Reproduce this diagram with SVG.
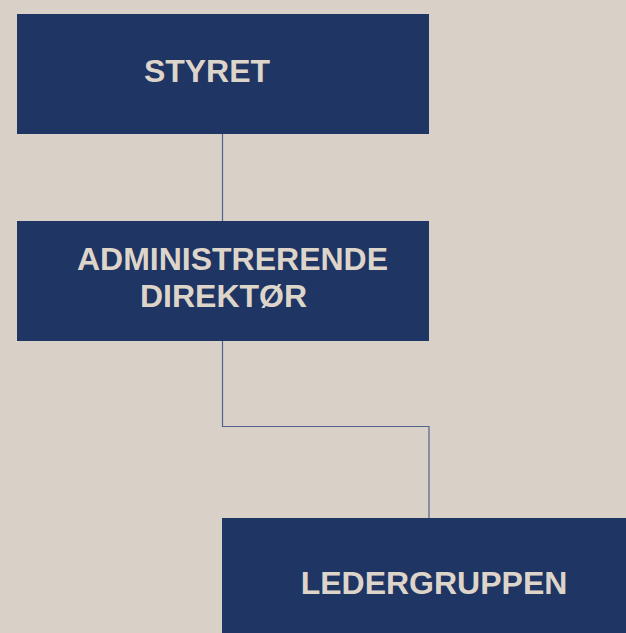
<svg xmlns="http://www.w3.org/2000/svg" width="626" height="633" viewBox="0 0 626 633">
<style>
.box{fill:#1F3564;}
.lbl{font-family:"Liberation Sans",Arial,sans-serif;font-weight:bold;font-size:32px;fill:#DDD4CA;text-anchor:middle;}
.conn{fill:none;stroke:#53628A;stroke-width:1.2;}
</style>
<rect width="626" height="633" fill="#D9D1C7"/>
<g id="connectors">
<path class="conn" d="M222.5,134 V221"/>
<path class="conn" d="M222.5,341 V426.5 H429 V518"/>
</g>
<g id="styret">
<rect class="box" x="17" y="14" width="412" height="120"/>
<text class="lbl" x="207" y="82">STYRET</text>
</g>
<g id="adm">
<rect class="box" x="17" y="221" width="412" height="120"/>
<text class="lbl" x="232.5" y="270">ADMINISTRERENDE</text>
<text class="lbl" x="223.5" y="307">DIREKTØR</text>
</g>
<g id="ledergruppen">
<rect class="box" x="222" y="518" width="412" height="120"/>
<text class="lbl" x="434" y="594">LEDERGRUPPEN</text>
</g>
</svg>
